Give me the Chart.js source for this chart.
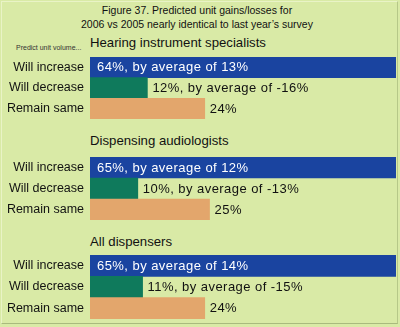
<!DOCTYPE html>
<html>
<head>
<meta charset="utf-8">
<script src="https://cdn.jsdelivr.net/npm/chart.js@4"></script>
<style>
  html, body { margin: 0; padding: 0; }
  body { width: 400px; height: 327px; background: #d9eaa6; position: relative; overflow: hidden;
         font-family: "Liberation Sans", Arial, sans-serif; color: #111; }
  .frame { position: absolute; left: 1px; top: 1px; width: 395px; height: 321px;
           border-top: 1px solid #e9f3c6; border-left: 1px solid #e9f3c6;
           border-right: 1px solid #b6c888; border-bottom: 1px solid #a9ba7e; }
  .title { position: absolute; left: 0; width: 394px; top: 3px; text-align: center;
           font-size: 10.5px; line-height: 14px; }
  .note { position: absolute; left: 16px; top: 44px; font-size: 7px; line-height: 8px; color: #333; }
  .hdr { position: absolute; left: 90px; font-size: 13.2px; line-height: 16px; }
  canvas { position: absolute; left: 0; display: block; }
</style>
</head>
<body>
<div class="frame"></div>
<div class="title">Figure 37. Predicted unit gains/losses for<br>2006 vs 2005 nearly identical to last year’s survey</div>
<div class="note">Predict unit volume...</div>
<div class="hdr" id="h0" style="top:35px"></div>
<div class="hdr" id="h1" style="top:133px"></div>
<div class="hdr" id="h2" style="top:234px"></div>
<canvas id="c0" width="396" height="62" style="top:57px;width:396px;height:62px"></canvas>
<canvas id="c1" width="396" height="63" style="top:157px;width:396px;height:63px"></canvas>
<canvas id="c2" width="396" height="64" style="top:255px;width:396px;height:64px"></canvas>
<script>
// ---- data ----
const groups = ["Hearing instrument specialists", "Dispensing audiologists", "All dispensers"];
const categories = ["Will increase", "Will decrease", "Remain same"];
const specialistsShare = [64, 12, 24];
const specialistsAvg = [13, -16, null];
const audiologistsShare = [65, 10, 25];
const audiologistsAvg = [12, -13, null];
const dispensersShare = [65, 11, 24];
const dispensersAvg = [14, -15, null];
const xMax = 64;

const shares = [specialistsShare, audiologistsShare, dispensersShare];
const avgs = [specialistsAvg, audiologistsAvg, dispensersAvg];
const barColors = ["#1a44a0", "#0f7a5c", "#e3a66c"];
const FONT = '"Liberation Sans", Arial, sans-serif';

function labelText(v, a) {
  return a === null ? v + "%" : v + "%, by average of " + a + "%";
}

const valueLabels = {
  id: "valueLabels",
  afterDatasetsDraw(chart, args, opts) {
    const ctx = chart.ctx;
    const meta = chart.getDatasetMeta(0);
    const data = chart.data.datasets[0].data;
    ctx.save();
    ctx.font = "13px " + FONT;
    if ("letterSpacing" in ctx) ctx.letterSpacing = "0.45px";
    ctx.textBaseline = "middle";
    ctx.textAlign = "left";
    meta.data.forEach((bar, i) => {
      const t = labelText(data[i], opts.avg[i]);
      if (i === 0) {
        ctx.fillStyle = "#ffffff";
        ctx.fillText(t, bar.base + 7, bar.y + 0.5);
      } else {
        ctx.fillStyle = "#111111";
        ctx.fillText(t, bar.x + 5, bar.y + 0.5);
      }
    });
    ctx.restore();
  }
};

groups.forEach((g, k) => {
  document.getElementById("h" + k).textContent = g;
  new Chart(document.getElementById("c" + k), {
    type: "bar",
    data: {
      labels: categories,
      datasets: [{
        data: shares[k],
        backgroundColor: barColors,
        borderWidth: 0,
        barPercentage: 1,
        categoryPercentage: 1
      }]
    },
    options: {
      indexAxis: "y",
      responsive: false,
      maintainAspectRatio: false,
      devicePixelRatio: 1,
      animation: false,
      events: [],
      layout: { padding: 0 },
      plugins: {
        legend: { display: false },
        tooltip: { enabled: false },
        valueLabels: { avg: avgs[k] }
      },
      scales: {
        x: { display: false, min: 0, max: xMax },
        y: {
          grid: { display: false, drawTicks: false },
          border: { display: false },
          ticks: { color: "#111", padding: 6, font: { family: FONT, size: 12.5 } },
          afterFit(scale) {
            scale.width = 90;
            scale.paddingTop = 0;
            scale.paddingBottom = 0;
          }
        }
      }
    },
    plugins: [valueLabels]
  });
});
</script>
</body>
</html>
